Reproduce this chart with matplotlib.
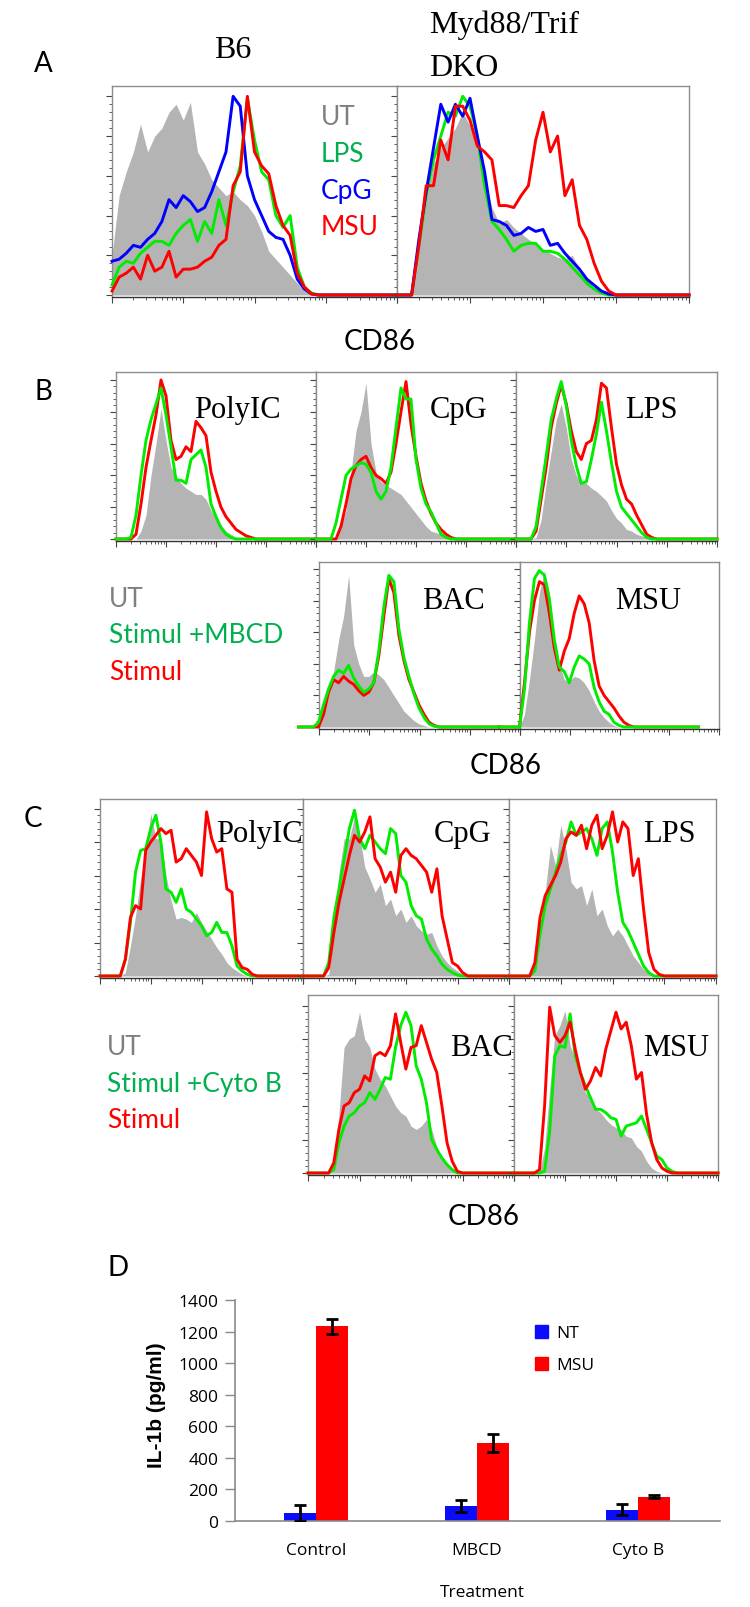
import numpy as np
import matplotlib
matplotlib.use("Agg")
import matplotlib.pyplot as plt
from matplotlib.patches import Patch

# ---------------- data: flow histograms (% of max, sampled every 0.1 log decade) ----------------
A_B6_UT = [20,50,62,72,86,72,80,84,92,96, 88,97,72,66,58,54,50,52,48,45, 40,32,22,18,14,10,6,2,0]
A_B6_LPS = [5,14,17,16,21,24,27,27,25,31, 35,38,27,37,31,48,35,52,65,99, 78,62,58,40,34,40,14,4,1,0]
A_B6_CpG = [17,18,21,25,24,28,31,37,48,44, 50,47,42,44,52,62,72,100,95,60, 48,40,32,29,28,20,8,3,0.5,0]
A_B6_MSU = [2,9,11,14,8,20,12,14,22,9, 13,13,14,17,19,25,28,55,62,100, 72,65,61,45,35,30,11,4,0.5,0]

A_DKO_UT = [0,0,1,25,48,66,74,79,84,92, 85,75,58,44,36,38,34,31,28,26, 23,21,19,18,20,13,8,3,1,0]
A_DKO_LPS = [0,0,0,25,50,68,80,92,90,100, 95,80,55,37,33,28,22,25,26,26, 22,22,21,18,14,10,6,3,1,0]
A_DKO_CpG = [0,0,0,28,52,74,96,87,96,90, 99,80,62,38,37,35,30,31,34,32, 33,25,26,21,17,13,8,5,2,0.5,0]
A_DKO_MSU = [0,0,0,25,55,55,78,68,95,95, 88,75,72,68,45,45,44,50,55,78, 92,72,80,50,58,35,28,16,7,2,0]

B_PolyIC_UT = [0,0,0,0,0,5,15,40,60,82, 62,45,40,35,32,30,28,28,25,18, 13,9,5,3,1,0]
B_PolyIC_Stimul = [0,0,0,0,3,22,45,62,78,100, 90,62,50,52,58,55,74,70,65,42, 30,20,14,10,6,4,2,1,0]
B_PolyIC_MBCD = [0,0,0,1,15,40,62,75,85,95, 78,58,37,37,35,50,53,56,45,22, 14,7,3,1,0]

B_CpG_UT = [0,0,0,0,0,8,18,42,68,80, 98,60,42,36,34,32,30,28,24,20, 16,12,8,5,4,3,1,0]
B_CpG_Stimul = [0,0,0,0,0,8,22,38,46,50, 52,45,40,38,35,42,60,80,99,72, 52,35,24,16,10,6,3,1,0]
B_CpG_MBCD = [0,0,0,0,10,25,40,44,46,48, 47,42,30,25,30,45,70,95,88,88, 50,32,22,17,10,3,1,0]

B_LPS_UT = [0,0,0,0,1,12,35,55,75,85, 70,50,40,36,35,32,30,27,24,18, 13,10,6,5,3,2,1,0]
B_LPS_Stimul = [0,0,0,0,5,25,45,70,85,97, 85,68,55,50,60,62,75,98,95,70, 47,34,25,22,15,9,3,1,0]
B_LPS_MBCD = [0,0,0,0,8,30,52,75,88,99, 84,62,46,35,36,50,66,86,68,48, 30,20,16,12,8,4,1,0]

B_BAC_UT = [0,0,0,0,0,8,20,35,55,70, 96,52,40,32,32,35,33,30,25,20, 15,10,7,4,2,1,0]
B_BAC_Stimul = [0,0,0,0,0,8,22,30,28,32, 29,27,23,20,22,28,45,70,94,85, 58,42,30,22,14,8,3,1,0]
B_BAC_MBCD = [0,0,0,0,3,14,24,32,36,34, 39,31,26,22,24,28,48,76,96,92, 62,44,32,21,12,6,2,0.5,0]

B_MSU_UT = [0,0,0,0,0,8,30,55,85,99, 85,58,40,30,29,32,31,28,23,16, 10,6,3,1,0]
B_MSU_Stimul = [0,0,0,0,0,28,60,80,92,90, 72,50,36,48,56,72,83,78,66,42, 26,20,16,12,7,3,1,0]
B_MSU_MBCD = [0,0,0,0,0,24,66,94,99,96, 81,55,38,35,28,38,45,43,40,25, 16,10,8,3,1,0]

C_PolyIC_UT = [0,0,0,0,0,2,18,36,58,75, 97,82,82,60,45,34,35,34,32,38, 32,27,22,17,13,8,5,3,1,0]
C_PolyIC_Stimul = [0,0,0,0,0,10,35,42,40,75, 80,84,88,85,87,68,70,76,72,68, 60,98,82,74,76,52,50,10,5,4, 1,0]
C_PolyIC_CytoB = [0,0,0,0,0,10,32,62,75,76, 88,96,80,52,50,44,52,40,38,34, 30,24,26,32,26,26,18,6,3,1, 0]

C_CpG_UT = [0,0,0,0,0,1,28,62,82,82, 95,84,65,58,50,55,42,46,36,40, 32,36,30,27,25,26,18,12,8,5, 3,1,0]
C_CpG_Stimul = [0,0,0,0,0,5,26,44,58,72, 84,80,86,95,70,65,56,62,50,72, 76,72,70,66,62,50,64,36,22,8, 6,2,0]
C_CpG_CytoB = [0,0,0,0,0,8,35,52,70,88, 99,82,76,84,80,76,73,88,85,60, 56,42,36,34,22,16,12,7,4,2, 0.5,0]

C_LPS_UT = [0,0,0,0,0,5,22,50,78,66, 90,76,56,52,54,42,52,36,40,30, 24,28,24,18,12,8,4,2,0]
C_LPS_Stimul = [0,0,0,0,0,8,35,48,54,60, 68,82,86,84,90,76,90,96,76,84, 98,80,92,88,60,70,40,14,4,1, 0]
C_LPS_CytoB = [0,0,0,0,0,3,25,42,52,62, 72,80,92,84,86,88,82,72,88,92, 74,50,32,27,20,13,6,2,0]

C_BAC_UT = [0,0,0,0,0,8,35,75,80,82, 96,80,75,62,56,52,46,40,36,34, 28,26,28,32,26,16,8,5,2,0]
C_BAC_Stimul = [0,0,0,0,0,6,26,40,42,48, 50,58,55,70,72,70,76,95,78,62, 75,76,88,78,68,60,40,18,7,1, 0]
C_BAC_CytoB = [0,0,0,0,0,2,18,28,34,36, 40,42,48,44,50,57,56,75,88,96, 88,64,56,42,20,14,9,5,2,0]

C_MSU_UT = [0,0,0,0,0,1,15,50,82,88, 97,76,68,56,48,45,38,36,32,29, 27,26,22,21,16,13,7,3,1,0]
C_MSU_Stimul = [0,0,0,0,0,2,40,99,82,78, 82,90,74,60,50,55,63,58,74,85, 96,86,90,76,56,60,35,18,8,3, 1,0]
C_MSU_CytoB = [0,0,0,0,0,0,1,25,70,76, 75,95,70,60,52,45,38,38,36,33, 32,22,28,29,30,34,26,18,10,8, 3,1,0]

# ---------------- data: IL-1b bar chart ----------------
D_CATEGORIES = ["Control", "MBCD", "Cyto B"]
D_NT = [50, 95, 70]
D_NT_ERR = [52, 40, 35]
D_MSU = [1234, 494, 155]
D_MSU_ERR = [47, 55, 10]
D_YTICKS = [0, 200, 400, 600, 800, 1000, 1200, 1400]

# ---------------- style ----------------
W, H = 750, 1608
SANS = ["Lato", "DejaVu Sans"]
SERIF = ["Liberation Serif", "DejaVu Serif"]
UT_FILL = "#b4b4b4"
GREEN = "#00ec00"
BLUE = "#0000ff"
RED = "#ff0000"
TXT_GRAY = "#7f7f7f"
TXT_GREEN = "#00b050"

fig = plt.figure(figsize=(W / 100, H / 100), dpi=100)

CHANNEL = np.linspace(0, 4, 41)
MINOR_X = [d + np.log10(k) for d in range(4) for k in range(2, 10)]


def full(vals):
    arr = np.zeros(len(CHANNEL))
    arr[:len(vals)] = vals
    return arr


def add_px_axes(x0, x1, ytop, ybot):
    return fig.add_axes([x0 / W, 1 - ybot / H, (x1 - x0) / W, (ybot - ytop) / H])


def ftext(x, y, s, **kw):
    return fig.text(x / W, 1 - y / H, s, **kw)


def hist_panel(x0, x1, top, base, full100, ut, curves, offset=0.0):
    ppp = (base - full100) / 100.0
    ax = add_px_axes(x0, x1, top, base + 2)
    ax.set_xlim(0, 4)
    ax.set_ylim(-2 / ppp, (base - top) / ppp)
    xs = CHANNEL + offset
    ax.fill_between(xs, 0, full(ut), color=UT_FILL, lw=0, zorder=1)
    for vals, col in curves:
        ax.plot(xs, full(vals), color=col, lw=2.1, zorder=3, clip_on=False,
                solid_joinstyle="round")
    ax.set_xticks(range(5))
    ax.set_xticks(MINOR_X, minor=True)
    ax.set_yticks(range(0, 101, 20))
    ax.set_yticks(range(0, 101, 4), minor=True)
    ax.tick_params(which="major", length=4, width=0.8, color="#444444",
                   labelbottom=False, labelleft=False, direction="out")
    ax.tick_params(which="minor", length=2, width=0.6, color="#444444")
    for s in ax.spines.values():
        s.set_color("#8c8c8c")
        s.set_linewidth(1.0)
    ax.spines["bottom"].set_color("#333333")
    return ax


# ---------------- Panel A ----------------
hist_panel(112, 397, 87, 296, 97.3, A_B6_UT,
           [(A_B6_LPS, GREEN), (A_B6_CpG, BLUE), (A_B6_MSU, RED)])
hist_panel(397, 689, 87, 296, 97.3, A_DKO_UT,
           [(A_DKO_LPS, GREEN), (A_DKO_CpG, BLUE), (A_DKO_MSU, RED)])

ftext(43, 72, "A", family=SANS, fontsize=20, ha="center", va="baseline")
ftext(233, 58, "B6", family=SERIF, fontsize=23, ha="center", va="baseline")
ftext(429, 33, "Myd88/Trif", family=SERIF, fontsize=23, ha="left", va="baseline")
ftext(429, 76, "DKO", family=SERIF, fontsize=23, ha="left", va="baseline")
for lab, col, yb in [("UT", TXT_GRAY, 125), ("LPS", TXT_GREEN, 162),
                     ("CpG", BLUE, 199), ("MSU", RED, 235)]:
    ftext(321, yb, lab, family=SANS, fontsize=19, color=col, ha="left", va="baseline")
ftext(380, 350, "CD86", family=SANS, fontsize=20, ha="center", va="baseline")

# ---------------- Panel B ----------------
B_ROW1 = [(116, 316, B_PolyIC_UT, B_PolyIC_Stimul, B_PolyIC_MBCD, "PolyIC", 237),
          (316, 516, B_CpG_UT, B_CpG_Stimul, B_CpG_MBCD, "CpG", 459),
          (516, 717, B_LPS_UT, B_LPS_Stimul, B_LPS_MBCD, "LPS", 651)]
for x0, x1, ut, st, mb, title, tx in B_ROW1:
    hist_panel(x0, x1, 373, 540, 381, ut, [(st, RED), (mb, GREEN)])
    ftext(tx, 418, title, family=SERIF, fontsize=22, ha="center", va="baseline")

B_ROW2 = [(319, 520, B_BAC_UT, B_BAC_Stimul, B_BAC_MBCD, "BAC", 453),
          (520, 719, B_MSU_UT, B_MSU_Stimul, B_MSU_MBCD, "MSU", 648)]
for x0, x1, ut, st, mb, title, tx in B_ROW2:
    hist_panel(x0, x1, 563, 728, 570, ut, [(st, RED), (mb, GREEN)], offset=-0.41)
    ftext(tx, 609, title, family=SERIF, fontsize=22, ha="center", va="baseline")

ftext(43, 400, "B", family=SANS, fontsize=20, ha="center", va="baseline")
for lab, col, yb in [("UT", TXT_GRAY, 607), ("Stimul +MBCD", TXT_GREEN, 643),
                     ("Stimul", RED, 680)]:
    ftext(109, yb, lab, family=SANS, fontsize=19, color=col, ha="left", va="baseline")
ftext(506, 774, "CD86", family=SANS, fontsize=20, ha="center", va="baseline")

# ---------------- Panel C ----------------
C_ROW1 = [(100, 303, C_PolyIC_UT, C_PolyIC_Stimul, C_PolyIC_CytoB, "PolyIC", 259),
          (303, 509, C_CpG_UT, C_CpG_Stimul, C_CpG_CytoB, "CpG", 463),
          (509, 716, C_LPS_UT, C_LPS_Stimul, C_LPS_CytoB, "LPS", 669)]
for x0, x1, ut, st, cy, title, tx in C_ROW1:
    hist_panel(x0, x1, 800, 977, 809.5, ut, [(cy, GREEN), (st, RED)])
    ftext(tx, 842, title, family=SERIF, fontsize=22, ha="center", va="baseline", zorder=5)

C_ROW2 = [(308, 514, C_BAC_UT, C_BAC_Stimul, C_BAC_CytoB, "BAC", 481),
          (514, 718, C_MSU_UT, C_MSU_Stimul, C_MSU_CytoB, "MSU", 676)]
for x0, x1, ut, st, cy, title, tx in C_ROW2:
    hist_panel(x0, x1, 996, 1174, 1006.5, ut, [(cy, GREEN), (st, RED)])
    ftext(tx, 1056, title, family=SERIF, fontsize=22, ha="center", va="baseline", zorder=5)

ftext(33, 827, "C", family=SANS, fontsize=20, ha="center", va="baseline")
for lab, col, yb in [("UT", TXT_GRAY, 1055), ("Stimul +Cyto B", TXT_GREEN, 1092),
                     ("Stimul", RED, 1128)]:
    ftext(107, yb, lab, family=SANS, fontsize=19, color=col, ha="left", va="baseline")
ftext(484, 1225, "CD86", family=SANS, fontsize=20, ha="center", va="baseline")

# ---------------- Panel D ----------------
ftext(118, 1276, "D", family=SANS, fontsize=20, ha="center", va="baseline")
axd = add_px_axes(235, 720, 1301, 1522)
xpos = np.arange(len(D_CATEGORIES))
bw = 0.2
axd.bar(xpos - bw / 2, D_NT, bw, color="#0b0bff", zorder=2)
axd.bar(xpos + bw / 2, D_MSU, bw, color=RED, zorder=2)
axd.errorbar(xpos - bw / 2, D_NT, yerr=D_NT_ERR, fmt="none", ecolor="black",
             elinewidth=2.0, capsize=4.5, capthick=2.0, zorder=3)
axd.errorbar(xpos + bw / 2, D_MSU, yerr=D_MSU_ERR, fmt="none", ecolor="black",
             elinewidth=2.0, capsize=4.5, capthick=2.0, zorder=3)
axd.set_xlim(-0.503, 2.51)
axd.set_ylim(0, 1400)
axd.set_yticks(D_YTICKS)
axd.set_yticklabels([str(t) for t in D_YTICKS], family="Open Sans", fontsize=12.5)
axd.set_xticks(xpos)
axd.set_xticklabels(D_CATEGORIES, family="Open Sans", fontsize=12.5)
axd.tick_params(axis="y", length=7, width=1.0, color="#8a8a8a", pad=5)
axd.tick_params(axis="x", length=0, pad=15)
for side in ["top", "right"]:
    axd.spines[side].set_visible(False)
for side in ["left", "bottom"]:
    axd.spines[side].set_color("#8a8a8a")
    axd.spines[side].set_linewidth(1.2)
ftext(157, 1405, "IL-1b (pg/ml)", family=["Liberation Sans", "DejaVu Sans"],
      fontsize=15, fontweight="bold", rotation=90, ha="center", va="center")
ftext(482, 1593, "Treatment", family="Open Sans", fontsize=12.5, ha="center", va="center")
fig.legend(handles=[Patch(color="#0b0bff", label="NT"), Patch(color=RED, label="MSU")],
           loc="upper left", bbox_to_anchor=(535 / W, 1 - 1326 / H), frameon=False,
           prop={"family": "Open Sans", "size": 12.5}, handlelength=0.75,
           handleheight=0.75, handletextpad=0.5, labelspacing=0.9,
           borderaxespad=0, borderpad=0)

fig.savefig("out.png", dpi=100)
